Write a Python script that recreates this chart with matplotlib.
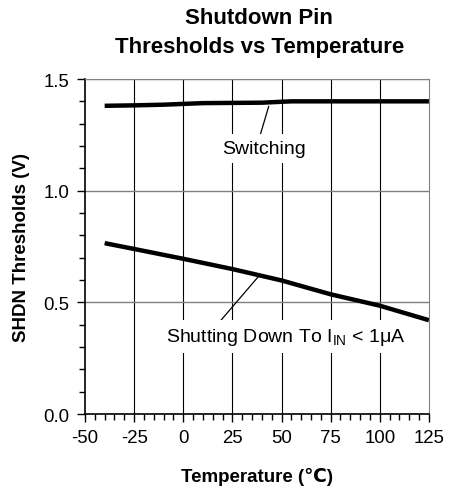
import matplotlib
matplotlib.use('Agg')
import matplotlib.pyplot as plt
from matplotlib.ticker import MultipleLocator

plt.rcParams['font.family'] = ['Liberation Sans', 'DejaVu Sans']
plt.rcParams['axes.unicode_minus'] = False

# data
temp_switch = [-40, -25, -10, 10, 25, 40, 55, 75, 100, 125]
v_switch = [1.38, 1.382, 1.385, 1.392, 1.393, 1.394, 1.40, 1.40, 1.40, 1.40]

temp_shut = [-40, -25, 0, 25, 50, 75, 100, 125]
v_shut = [0.765, 0.739, 0.695, 0.649, 0.598, 0.536, 0.485, 0.42]

xticks = [-50, -25, 0, 25, 50, 75, 100, 125]
yticks = [0.0, 0.5, 1.0, 1.5]

fig = plt.figure(figsize=(4.51, 4.89), dpi=100)
ax = fig.add_axes([0.1885, 0.1513, 0.951 - 0.1885, 0.8364 - 0.1513])

ax.set_xlim(-50, 125)
ax.set_ylim(0, 1.5)
ax.set_xticks(xticks)
ax.set_yticks(yticks)
ax.set_yticklabels([f'{v:.1f}' for v in yticks])
ax.xaxis.set_minor_locator(MultipleLocator(5))
ax.yaxis.set_minor_locator(MultipleLocator(0.1))
ax.tick_params(which='major', direction='out', length=6, width=1, labelsize=13.4, pad=5)
ax.tick_params(which='minor', direction='out', length=4, width=1)

# grid: vertical black, horizontal gray
for x in xticks[1:-1]:
    ax.axvline(x, color='black', lw=0.8, zorder=1)
for y in yticks[1:]:
    ax.axhline(y, color='#808080', lw=1.0, zorder=1)

for s in ['top', 'right']:
    ax.spines[s].set_color('#808080')
for s in ['left', 'bottom']:
    ax.spines[s].set_linewidth(1.2)

ax.plot(temp_switch, v_switch, color='black', lw=3.2, solid_capstyle='butt', zorder=4)
ax.plot(temp_shut, v_shut, color='black', lw=3.2, solid_capstyle='butt', zorder=4)

# annotations
ax.annotate('Switching', xy=(43.5, 1.378), xytext=(41, 1.19),
            ha='center', va='center', fontsize=14,
            bbox=dict(boxstyle='square,pad=0.3', fc='white', ec='none'),
            arrowprops=dict(arrowstyle='-', color='black', lw=0.9,
                            shrinkA=0, shrinkB=0, relpos=(0.44, 1.0)),
            zorder=5)
ax.annotate(r'Shutting Down To I$_{\mathregular{IN}}$ < 1$\mathregular{\mu}$A',
            xy=(38, 0.613), xytext=(52, 0.347),
            ha='center', va='center', fontsize=14,
            bbox=dict(boxstyle='square,pad=0.3', fc='white', ec='none'),
            arrowprops=dict(arrowstyle='-', color='black', lw=0.9,
                            shrinkA=0, shrinkB=0, relpos=(0.21, 1.0)),
            zorder=5)

ax.set_xlabel('Temperature (℃)', fontsize=13.5, fontweight='bold', labelpad=15)
ax.set_ylabel('SHDN Thresholds (V)', fontsize=13.5, fontweight='bold', labelpad=10)
fig.text(0.575, 1 - 19 / 489, 'Shutdown Pin', ha='center', va='center',
         fontsize=16, fontweight='bold')
fig.text(0.575, 1 - 48 / 489, 'Thresholds vs Temperature', ha='center', va='center',
         fontsize=16, fontweight='bold')

fig.savefig('out.png', dpi=100, facecolor='white')
